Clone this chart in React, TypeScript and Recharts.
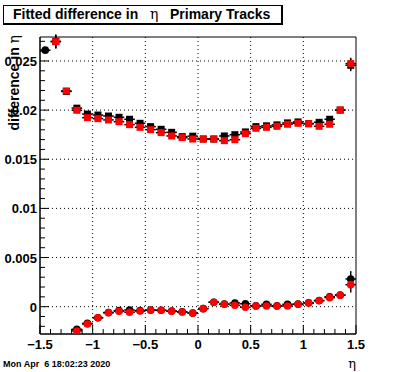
import React from "react";
import {
  ComposedChart,
  Scatter,
  XAxis,
  YAxis,
  ErrorBar,
  ReferenceLine,
  ReferenceArea,
} from "recharts";

// ---- data ----
const etaCenters = [
  -1.45, -1.35, -1.25, -1.15, -1.05, -0.95, -0.85, -0.75, -0.65, -0.55,
  -0.45, -0.35, -0.25, -0.15, -0.05, 0.05, 0.15, 0.25, 0.35, 0.45,
  0.55, 0.65, 0.75, 0.85, 0.95, 1.05, 1.15, 1.25, 1.35, 1.45,
];

const upperBlack = [
  null, 0.027, 0.0219, 0.0202, 0.0196, 0.0195, 0.0194, 0.01927, 0.01907, 0.01866,
  0.01832, 0.01805, 0.01774, 0.0173, 0.01735, 0.01706, 0.01706, 0.01737, 0.0175, 0.01778,
  0.01832, 0.0184, 0.0185, 0.0187, 0.0188, 0.01862, 0.01876, 0.01907, 0.02, 0.02456,
];
const upperBlackEdge = [0.0261, null, null, null, null, null, null, null, null, null,
  null, null, null, null, null, null, null, null, null, null,
  null, null, null, null, null, null, null, null, null, null];
const upperRed = [
  null, 0.02696, 0.02195, 0.01998, 0.01923, 0.01913, 0.019, 0.01882, 0.01852, 0.01825,
  0.01801, 0.01771, 0.01737, 0.0172, 0.01706, 0.01706, 0.01706, 0.01689, 0.01699, 0.0176,
  0.01815, 0.01825, 0.01835, 0.01856, 0.01866, 0.01862, 0.01835, 0.01856, 0.02001, 0.02473,
];
const upperErr = [
  0.0002, 0.0007, 0.0002, 0.00015, 0.00015, 0.00015, 0.00015, 0.00015, 0.00015, 0.00015,
  0.00015, 0.00015, 0.00015, 0.00015, 0.00015, 0.00015, 0.00015, 0.00015, 0.00015, 0.00015,
  0.00015, 0.00015, 0.00015, 0.00015, 0.00015, 0.00015, 0.00015, 0.00015, 0.0002, 0.0006,
];

const lowerBlack = [
  null, null, null, -0.0023, -0.0017, -0.00112, -0.0006, -0.0004, -0.00034, -0.0004,
  -0.00035, -0.00037, -0.00045, -0.00052, -0.00065, -0.0002, 0.00045, 0.00026, 0.00038, 0.0003,
  0.00008, 0.00024, 0.00008, 0.00024, 0.00026, 0.0004, 0.00063, 0.00101, 0.00118, 0.00282,
];
const lowerRed = [
  null, null, null, -0.00247, -0.00176, -0.00112, -0.00061, -0.00047, -0.00057, -0.00044,
  -0.00037, -0.00037, -0.00047, -0.00054, -0.00067, -0.0002, 0.00045, 0.00024, 0.00014, -0.00006,
  0.00007, 0.00007, 0.00007, 0.00007, 0.00024, 0.00038, 0.00061, 0.00092, 0.00116, 0.00224,
];
const lowerErr = [
  0.0002, 0.0002, 0.0002, 0.0003, 0.00015, 0.00015, 0.00015, 0.00015, 0.00015, 0.00015,
  0.00015, 0.00015, 0.00015, 0.00015, 0.00015, 0.00015, 0.00015, 0.00015, 0.00015, 0.00015,
  0.00015, 0.00015, 0.00015, 0.00015, 0.00015, 0.00015, 0.00015, 0.00015, 0.0002, 0.0008,
];
const binHalfWidth = 0.05;

const xMajorTicks = [-1.5, -1, -0.5, 0, 0.5, 1, 1.5];
const xTickLabels = ["\u22121.5", "\u22121", "\u22120.5", "0", "0.5", "1", "1.5"];
const yMajorTicks = [0, 0.005, 0.01, 0.015, 0.02, 0.025];
const yTickLabels = ["0", "0.005", "0.01", "0.015", "0.02", "0.025"];

const X_DOMAIN: [number, number] = [-1.5, 1.5];
const Y_DOMAIN: [number, number] = [-0.00278, 0.02744];

const xMinorTicks: number[] = [];
for (let i = -15; i <= 15; i++) xMinorTicks.push(i / 10);
const yMinorTicks: number[] = [];
for (let i = -2; i <= 27; i++) yMinorTicks.push(i / 1000);

const build = (vals: (number | null)[], errs: number[]) =>
  etaCenters
    .map((x, i) => ({ x, y: vals[i], ey: errs[i], ex: binHalfWidth }))
    .filter((d) => d.y !== null);

const FONT = "'Liberation Sans', Arial, Helvetica, sans-serif";
const SERIF = "'DejaVu Serif', 'Liberation Serif', serif";

const findLabel = (v: number, majors: number[], labels: string[]) => {
  for (let i = 0; i < majors.length; i++) {
    if (Math.abs(v - majors[i]) < 1e-9) return labels[i];
  }
  return null;
};

const XTick = (props: any) => {
  const { x, y, payload } = props;
  const lab = findLabel(payload.value, xMajorTicks, xTickLabels);
  const len = lab !== null ? 9 : 5;
  return (
    <g>
      <line x1={x} x2={x} y1={y} y2={y - len} stroke="#000" strokeWidth={1} />
      {lab !== null && (
        <text x={x} y={y + 15} textAnchor="middle" fontFamily={FONT} fontWeight="bold" fontSize={13} fill="#000">
          {lab}
        </text>
      )}
    </g>
  );
};

const YTick = (props: any) => {
  const { x, y, payload } = props;
  const lab = findLabel(payload.value, yMajorTicks, yTickLabels);
  const len = lab !== null ? 9 : 5;
  return (
    <g>
      <line x1={x} x2={x + len} y1={y} y2={y} stroke="#000" strokeWidth={1} />
      {lab !== null && (
        <text x={x - 3} y={y + 5} textAnchor="end" fontFamily={FONT} fontWeight="bold" fontSize={13} fill="#000">
          {lab}
        </text>
      )}
    </g>
  );
};

const Square = (color: string) => (props: any) => {
  const { cx, cy } = props;
  if (cx == null || cy == null) return null;
  return <rect x={cx - 3.5} y={cy - 3.5} width={7} height={7} fill={color} />;
};
const Dot = (color: string) => (props: any) => {
  const { cx, cy } = props;
  if (cx == null || cy == null) return null;
  return <circle cx={cx} cy={cy} r={3.8} fill={color} />;
};

export default function App() {
  return (
    <div style={{ position: "absolute", left: 0, top: 0, width: 396, height: 372, background: "#fff" }}>
      <ComposedChart width={396} height={372} margin={{ top: 37, right: 40, bottom: 0, left: 0 }}>
        <XAxis
          dataKey="x"
          type="number"
          domain={X_DOMAIN}
          ticks={xMinorTicks}
          tick={<XTick />}
          tickLine={false}
          tickSize={0}
          tickMargin={0}
          height={38}
          interval={0}
          axisLine={{ stroke: "#000" }}
          allowDataOverflow
        />
        <YAxis
          dataKey="y"
          type="number"
          domain={Y_DOMAIN}
          ticks={yMinorTicks}
          tick={<YTick />}
          tickLine={false}
          tickSize={0}
          tickMargin={0}
          width={40}
          interval={0}
          axisLine={{ stroke: "#000" }}
          allowDataOverflow
        />
        <ReferenceArea x1={X_DOMAIN[0]} x2={X_DOMAIN[1]} y1={Y_DOMAIN[0]} y2={Y_DOMAIN[1]} fill="none" stroke="#000" strokeWidth={1} fillOpacity={0} />
        {xMajorTicks.slice(1, -1).map((v) => (
          <ReferenceLine key={"vx" + v} x={v} stroke="#000" strokeDasharray="1 3" />
        ))}
        {yMajorTicks.map((v) => (
          <ReferenceLine key={"hy" + v} y={v} stroke="#000" strokeDasharray="1 3" />
        ))}
        <Scatter data={build(lowerBlack, lowerErr)} dataKey="y" shape={Dot("#000")} isAnimationActive={false}>
          <ErrorBar dataKey="ex" direction="x" width={0} stroke="#000" />
          <ErrorBar dataKey="ey" direction="y" width={0} stroke="#000" />
        </Scatter>
        <Scatter data={build(upperBlack, upperErr)} dataKey="y" shape={Square("#000")} isAnimationActive={false}>
          <ErrorBar dataKey="ex" direction="x" width={0} stroke="#000" />
          <ErrorBar dataKey="ey" direction="y" width={0} stroke="#000" />
        </Scatter>
        <Scatter data={build(upperBlackEdge, upperErr)} dataKey="y" shape={Dot("#000")} isAnimationActive={false}>
          <ErrorBar dataKey="ex" direction="x" width={0} stroke="#000" />
          <ErrorBar dataKey="ey" direction="y" width={0} stroke="#000" />
        </Scatter>
        <Scatter data={build(lowerRed, lowerErr)} dataKey="y" shape={Dot("#ff0000")} isAnimationActive={false}>
          <ErrorBar dataKey="ex" direction="x" width={0} stroke="#000" />
          <ErrorBar dataKey="ey" direction="y" width={0} stroke="#000" />
        </Scatter>
        <Scatter data={build(upperRed, upperErr)} dataKey="y" shape={Square("#ff0000")} isAnimationActive={false}>
          <ErrorBar dataKey="ex" direction="x" width={0} stroke="#000" />
          <ErrorBar dataKey="ey" direction="y" width={0} stroke="#000" />
        </Scatter>
      </ComposedChart>
      {/* title box */}
      <div
        style={{
          position: "absolute",
          left: 3,
          top: 5,
          width: 268,
          height: 17,
          border: "1px solid #000",
          borderRightWidth: 2,
          borderBottomWidth: 2,
          background: "#fff",
          fontFamily: FONT,
          fontWeight: "bold",
          fontSize: 14,
          lineHeight: "17px",
          whiteSpace: "pre",
          paddingLeft: 9,
          boxSizing: "content-box",
        }}
      >
        {"Fitted difference in   "}
        <span style={{ fontFamily: SERIF, fontWeight: "normal" }}>η</span>
        {"   Primary Tracks"}
      </div>
      <svg style={{ position: "absolute", left: 0, top: 0 }} width={396} height={372} pointerEvents="none">
        {/* y-axis title */}
        <text
          transform="translate(19,35) rotate(-90)"
          textAnchor="end"
          fontFamily={FONT}
          fontWeight="bold"
          fontSize={14}
          fill="#000"
        >
          difference in{" "}
          <tspan fontFamily={SERIF} fontWeight="normal">η</tspan>
        </text>
        {/* x-axis title */}
        <text x={356} y={368} textAnchor="end" fontFamily={SERIF} fontSize={13} fill="#000">
          η
        </text>
        <text x={3} y={367} fontFamily={FONT} fontWeight="bold" fontSize={9} fill="#000" style={{ whiteSpace: "pre" }}>
          {"Mon Apr  6 18:02:23 2020"}
        </text>
      </svg>
    </div>
  );
}
